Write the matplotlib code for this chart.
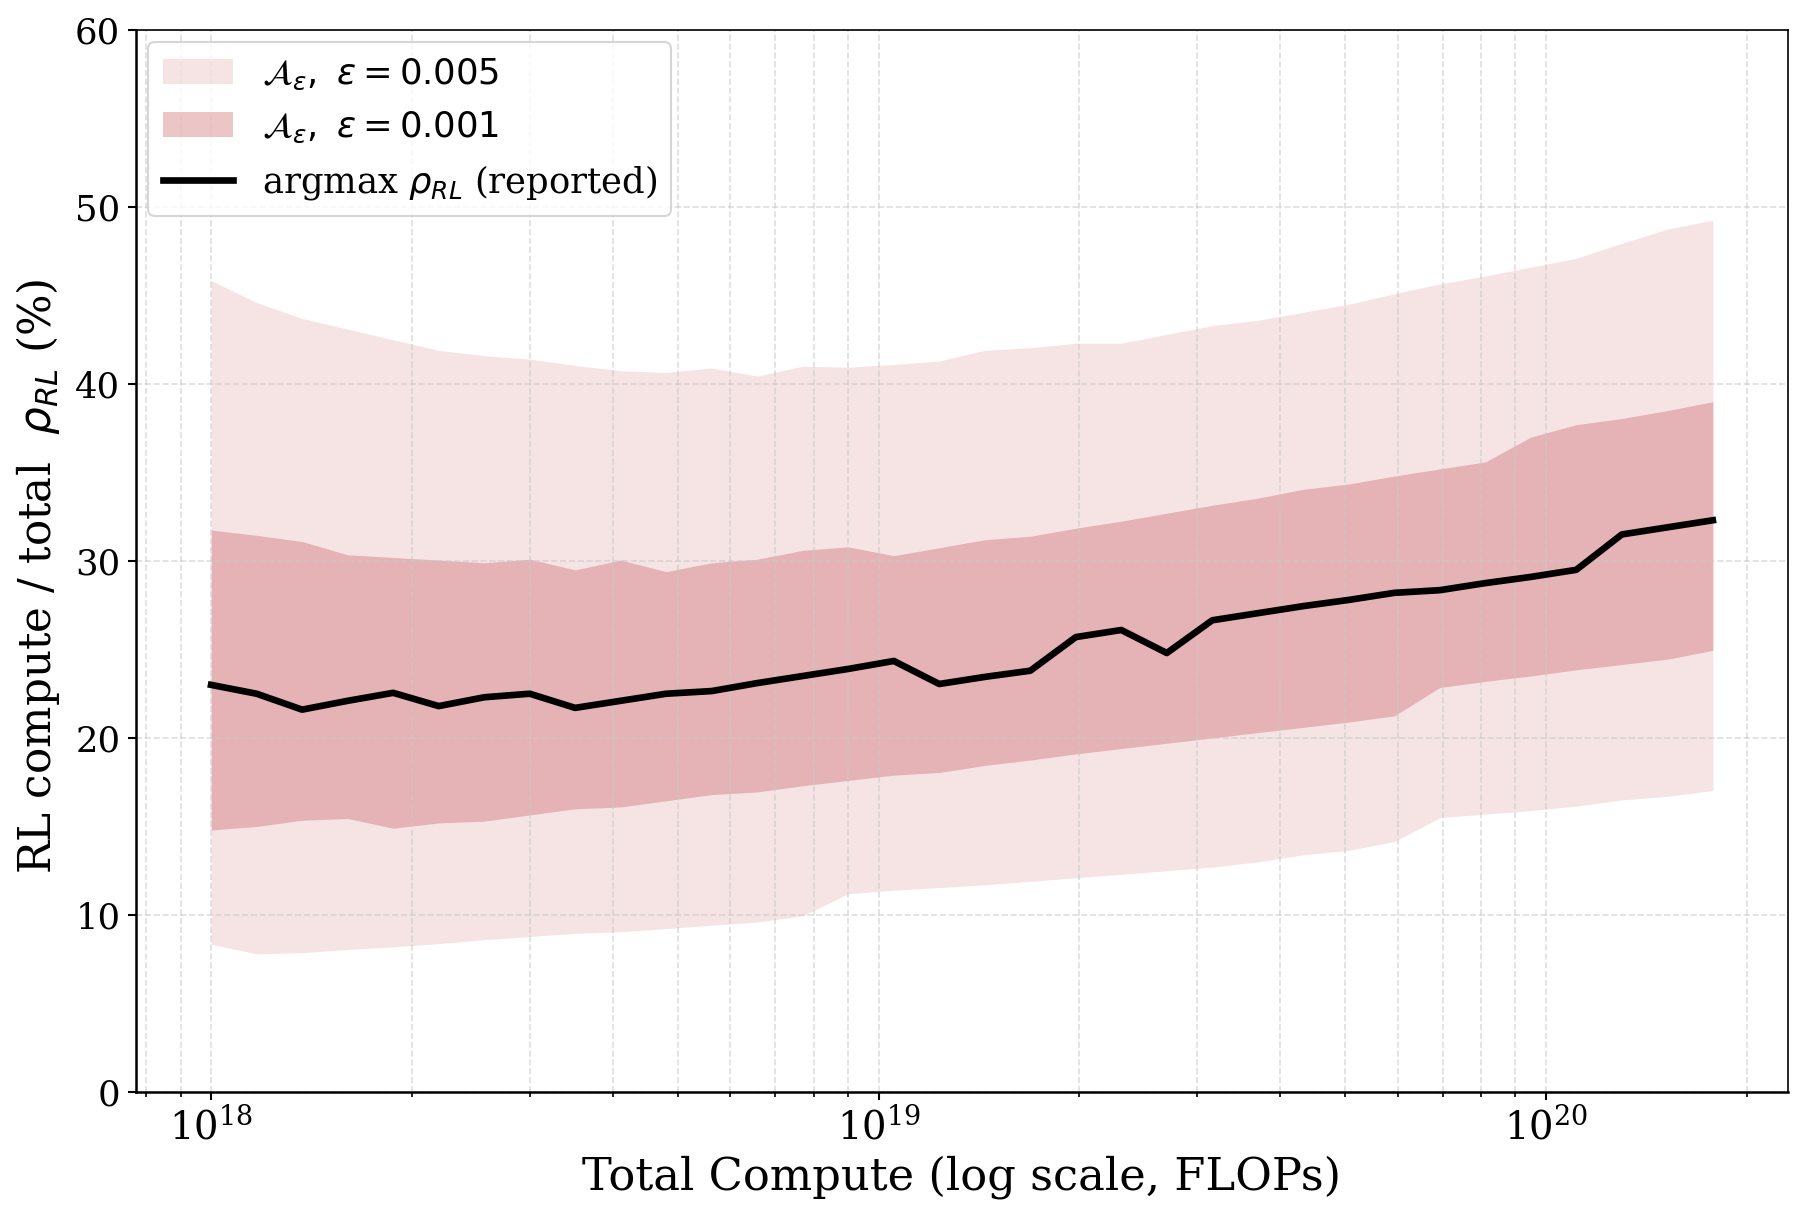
import numpy as np
import matplotlib
matplotlib.use('Agg')
import matplotlib.pyplot as plt

plt.rcParams['font.family'] = 'DejaVu Serif'
plt.rcParams['mathtext.fontset'] = 'dejavusans'

# total compute (units of 1e18 FLOPs)
compute = [1.000, 1.170, 1.369, 1.602, 1.874, 2.193, 2.566, 3.002, 3.511, 4.108,
           4.806, 5.623, 6.579, 7.697, 9.006, 10.54, 12.33, 14.43, 16.88, 19.75,
           23.10, 27.03, 31.62, 37.00, 43.29, 50.65, 59.26, 69.33, 81.11, 94.90,
           111.0, 129.9, 152.0, 177.8]

# argmax rho_RL (reported), %
rho_best = [23.0, 22.5, 21.6, 22.1, 22.55, 21.8, 22.3, 22.5, 21.7, 22.1,
            22.5, 22.65, 23.1, 23.5, 23.9, 24.35, 23.05, 23.45, 23.8, 25.7,
            26.1, 24.8, 26.65, 27.05, 27.45, 27.8, 28.2, 28.35, 28.75, 29.1,
            29.5, 31.5, 31.9, 32.3]

# eps = 0.005 band
lo_005 = [8.35, 7.8, 7.87, 8.05, 8.2, 8.38, 8.6, 8.78, 8.96, 9.05,
          9.23, 9.42, 9.6, 9.95, 11.2, 11.4, 11.55, 11.7, 11.9, 12.1,
          12.3, 12.5, 12.7, 13.0, 13.4, 13.65, 14.15, 15.5, 15.7, 15.9,
          16.15, 16.5, 16.7, 17.03]
hi_005 = [45.85, 44.6, 43.7, 43.1, 42.5, 41.9, 41.6, 41.4, 41.05, 40.75,
          40.65, 40.9, 40.45, 41.0, 40.95, 41.1, 41.3, 41.9, 42.05, 42.3,
          42.3, 42.8, 43.3, 43.6, 44.05, 44.5, 45.1, 45.65, 46.1, 46.6,
          47.1, 47.95, 48.75, 49.25]

# eps = 0.001 band
lo_001 = [14.8, 15.0, 15.35, 15.45, 14.9, 15.2, 15.3, 15.65, 16.0, 16.1,
          16.45, 16.8, 16.95, 17.3, 17.6, 17.9, 18.05, 18.45, 18.75, 19.1,
          19.4, 19.7, 20.0, 20.3, 20.6, 20.9, 21.25, 22.85, 23.2, 23.5,
          23.85, 24.15, 24.45, 24.95]
hi_001 = [31.75, 31.45, 31.1, 30.35, 30.2, 30.05, 29.9, 30.1, 29.5, 30.05,
          29.4, 29.9, 30.1, 30.6, 30.8, 30.3, 30.75, 31.2, 31.4, 31.85,
          32.25, 32.7, 33.15, 33.55, 34.05, 34.35, 34.8, 35.2, 35.6, 37.0,
          37.7, 38.05, 38.5, 39.0]

x = np.array(compute) * 1e18
band_color = '#c44e52'

fig, ax = plt.subplots(figsize=(12.04, 8.107), dpi=150)
fig.subplots_adjust(left=0.0753, right=0.990, top=0.9753, bottom=0.102)

ax.fill_between(x, lo_005, hi_005, color=band_color, alpha=0.15, lw=0,
                label=r'$\mathcal{A}_{\varepsilon},\ \varepsilon = 0.005$')
ax.fill_between(x, lo_001, hi_001, color=band_color, alpha=0.32, lw=0,
                label=r'$\mathcal{A}_{\varepsilon},\ \varepsilon = 0.001$')
ax.plot(x, rho_best, color='black', lw=3.2, label=r'argmax $\rho_{RL}$ (reported)')

ax.set_xscale('log')
ax.set_ylim(0, 60)
ax.grid(True, which='both', ls='--', color='#c8c8c8', alpha=0.6, lw=0.8)

ax.set_xlabel('Total Compute (log scale, FLOPs)', fontsize=21.5)
ax.set_ylabel(r'RL compute / total  $\rho_{RL}$ (%)', fontsize=21)
ax.yaxis.set_label_coords(-0.045, 0.486)
ax.tick_params(axis='y', which='major', labelsize=17, length=4, width=1)
ax.tick_params(axis='x', which='major', labelsize=18.5, length=4, width=1)
ax.tick_params(axis='x', which='minor', length=2.4, width=0.8)

for s in ['left', 'bottom']:
    ax.spines[s].set_linewidth(1.2)
for s in ['top', 'right']:
    ax.spines[s].set_linewidth(0.8)

ax.legend(loc='upper left', fontsize=17, borderaxespad=0.35)

fig.savefig('out.png', dpi=150)
plt.close(fig)
